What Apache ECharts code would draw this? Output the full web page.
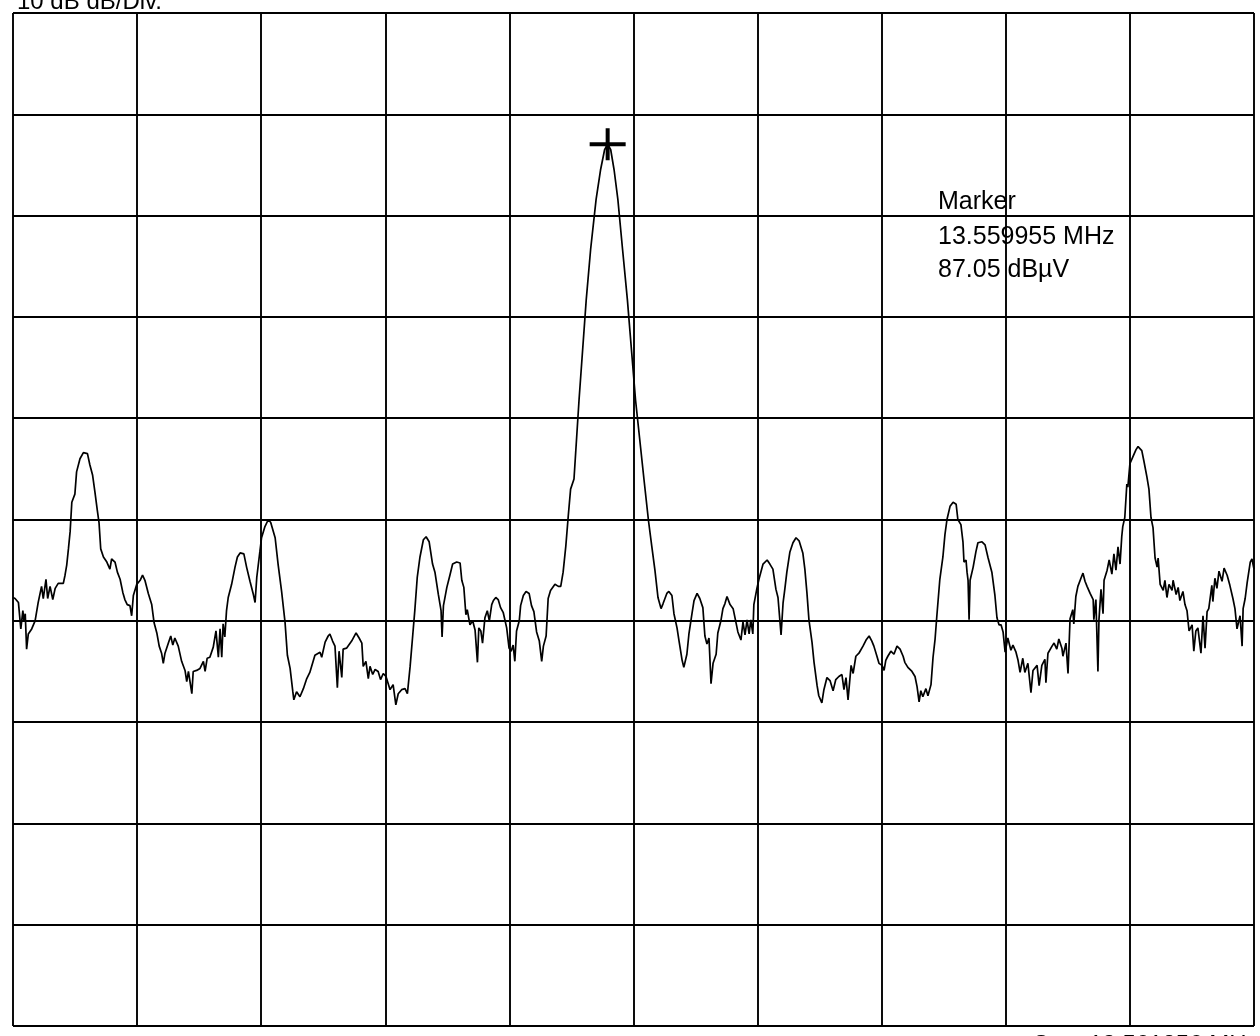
<!DOCTYPE html>
<html>
<head>
<meta charset="utf-8">
<title>Spectrum 13.56 MHz</title>
<script src="https://cdn.jsdelivr.net/npm/echarts@6/dist/echarts.min.js"></script>
<style>
  html, body { margin: 0; padding: 0; background: #ffffff; overflow: hidden; }
  #chart { width: 1260px; height: 1036px; }
</style>
</head>
<body>
<div id="chart"></div>
<script>
// Sweep settings (frequency in Hz, level in dBµV)
const START_HZ = 13558206;
const STOP_HZ = 13561856;
const SPAN_HZ = STOP_HZ - START_HZ;
const REF_LEVEL = 100;
const DB_PER_DIV = 10;
const DIVISIONS = 10;

const scaleText = '10 dB dB/Div.';
const markerTitle = 'Marker';

// Trace: frequency offset from start (Hz)
const freqOffsetHz = [
  0, 6, 16, 23, 29, 32, 36, 40, 45, 55,
  65, 74, 84, 89, 97, 102, 109, 117, 124, 133,
  148, 153, 158, 163, 168, 173, 182, 187, 197, 207,
  219, 226, 234, 241, 248, 253, 258, 266, 276, 285,
  290, 300, 307, 315, 323, 329, 336, 344, 349, 354,
  364, 374, 381, 388, 398, 408, 415, 423, 430, 437,
  442, 447, 457, 464, 470, 476, 486, 496, 506, 511,
  516, 526, 530, 540, 550, 560, 565, 571, 579, 589,
  597, 604, 609, 614, 618, 623, 628, 633, 643, 653,
  660, 668, 679, 687, 697, 707, 712, 717, 721, 726,
  731, 741, 751, 758, 771, 780, 790, 800, 807, 815,
  823, 826, 834, 844, 854, 864, 873, 888, 903, 908,
  918, 927, 932, 940, 947, 954, 959, 967, 971, 981,
  996, 1009, 1018, 1026, 1030, 1038, 1045, 1050, 1058, 1065,
  1074, 1081, 1089, 1097, 1109, 1118, 1126, 1133, 1143, 1153,
  1160, 1168, 1176, 1182, 1189, 1197, 1207, 1215, 1224, 1234,
  1241, 1251, 1259, 1262, 1266, 1276, 1285, 1293, 1305, 1315,
  1320, 1326, 1332, 1336, 1344, 1352, 1359, 1366, 1370, 1376,
  1381, 1388, 1395, 1401, 1408, 1413, 1420, 1427, 1434, 1442,
  1452, 1459, 1465, 1471, 1476, 1481, 1489, 1493, 1501, 1509,
  1518, 1525, 1532, 1540, 1548, 1555, 1560, 1568, 1574, 1581,
  1594, 1604, 1611, 1618, 1626, 1633, 1640, 1650, 1665, 1686,
  1699, 1715, 1728, 1740, 1749, 1758, 1768, 1779, 1793, 1807,
  1831, 1856, 1869, 1879, 1888, 1897, 1906, 1912, 1923, 1929,
  1938, 1944, 1953, 1959, 1968, 1973, 1982, 1988, 1997, 2003,
  2012, 2020, 2029, 2035, 2041, 2047, 2053, 2059, 2068, 2073,
  2082, 2088, 2094, 2100, 2109, 2118, 2126, 2132, 2141, 2147,
  2153, 2159, 2165, 2170, 2176, 2179, 2188, 2194, 2206, 2218,
  2226, 2235, 2244, 2250, 2259, 2265, 2270, 2276, 2285, 2294,
  2303, 2312, 2323, 2329, 2335, 2341, 2350, 2356, 2365, 2370,
  2379, 2385, 2394, 2403, 2412, 2420, 2429, 2438, 2444, 2450,
  2456, 2465, 2471, 2479, 2488, 2500, 2509, 2518, 2526, 2532,
  2541, 2547, 2556, 2562, 2567, 2573, 2582, 2591, 2600, 2609,
  2618, 2623, 2632, 2644, 2653, 2659, 2665, 2670, 2676, 2685,
  2691, 2700, 2706, 2712, 2717, 2726, 2735, 2741, 2747, 2756,
  2765, 2774, 2779, 2788, 2794, 2797, 2803, 2806, 2809, 2812,
  2815, 2824, 2832, 2838, 2850, 2859, 2868, 2879, 2888, 2894,
  2900, 2906, 2912, 2918, 2926, 2935, 2941, 2950, 2956, 2962,
  2970, 2976, 2985, 2994, 3000, 3012, 3018, 3026, 3035, 3038,
  3044, 3056, 3062, 3070, 3076, 3085, 3088, 3097, 3103, 3109,
  3117, 3120, 3126, 3132, 3141, 3147, 3153, 3159, 3168, 3177,
  3179, 3185, 3191, 3194, 3200, 3206, 3209, 3218, 3224, 3232,
  3238, 3244, 3250, 3256, 3261, 3264, 3270, 3276, 3279, 3285,
  3294, 3303, 3309, 3320, 3326, 3335, 3341, 3347, 3353, 3359,
  3365, 3368, 3374, 3383, 3388, 3394, 3400, 3409, 3412, 3421,
  3427, 3432, 3441, 3447, 3453, 3459, 3468, 3473, 3479, 3485,
  3494, 3500, 3506, 3512, 3517, 3526, 3529, 3535, 3541, 3547,
  3556, 3562, 3571, 3579, 3588, 3594, 3600, 3609, 3615, 3618,
  3624, 3630, 3639, 3644, 3650
];

// Trace: measured level (dBµV)
const levelDbuV = [
  42.3, 42.2, 41.8, 39.2, 41.0, 40.0, 40.7, 37.2, 38.7, 39.2,
  40.0, 41.8, 43.4, 42.2, 44.1, 42.2, 43.4, 42.1, 43.2, 43.7,
  43.7, 44.5, 45.5, 47.1, 48.8, 51.7, 52.5, 54.7, 56.0, 56.6,
  56.5, 55.4, 54.4, 52.7, 50.9, 49.7, 47.1, 46.3, 45.8, 45.1,
  46.1, 45.8, 44.8, 44.1, 42.8, 42.1, 41.6, 41.5, 40.5, 42.5,
  43.6, 44.0, 44.5, 44.0, 42.7, 41.6, 39.8, 38.8, 37.5, 36.8,
  35.8, 36.8, 37.8, 38.5, 37.6, 38.3, 37.5, 36.0, 35.1, 34.0,
  35.0, 32.8, 35.0, 35.1, 35.3, 36.0, 35.0, 36.3, 36.4, 37.4,
  39.0, 36.4, 39.2, 36.4, 39.7, 38.4, 41.0, 42.3, 43.6, 45.3,
  46.3, 46.7, 46.6, 45.3, 43.9, 42.6, 41.8, 44.3, 44.4, 46.8,
  48.2, 49.3, 50.0, 49.7, 48.2, 45.5, 42.9, 39.9, 36.6, 35.3,
  33.0, 32.2, 33.0, 32.5, 33.3, 34.3, 34.9, 36.6, 36.9, 36.4,
  37.9, 38.5, 38.7, 38.0, 37.5, 33.4, 37.0, 34.4, 37.2, 37.3,
  38.0, 38.8, 38.3, 37.8, 35.5, 36.0, 34.3, 35.5, 34.7, 35.2,
  35.0, 34.2, 34.8, 34.5, 33.2, 33.7, 31.7, 32.8, 33.2, 33.3,
  32.8, 35.5, 38.7, 41.1, 44.3, 46.3, 48.0, 48.3, 47.8, 45.6,
  44.8, 42.6, 41.0, 38.4, 41.5, 43.3, 44.5, 45.6, 45.8, 45.7,
  44.0, 43.3, 40.6, 41.1, 39.6, 40.0, 39.1, 35.9, 39.3, 39.0,
  37.8, 40.3, 41.0, 40.0, 41.6, 42.0, 42.3, 42.1, 41.3, 40.8,
  39.3, 37.3, 37.0, 37.6, 36.0, 39.0, 40.0, 41.5, 42.5, 42.9,
  42.7, 41.5, 40.9, 38.9, 38.0, 36.0, 37.5, 38.5, 42.2, 43.0,
  43.6, 43.4, 43.4, 44.8, 47.4, 50.3, 53.0, 54.0, 61.9, 71.7,
  76.7, 81.6, 84.5, 86.5, 87.05, 86.5, 84.5, 81.6, 76.6, 71.7,
  61.8, 53.9, 49.9, 47.3, 45.0, 42.3, 41.2, 41.7, 42.7, 42.9,
  42.5, 40.7, 39.3, 38.0, 36.1, 35.4, 36.7, 38.7, 40.7, 42.0,
  42.7, 42.2, 41.3, 38.5, 37.7, 38.3, 33.8, 35.8, 36.7, 38.8,
  40.0, 41.2, 41.7, 42.4, 41.6, 41.2, 39.9, 38.9, 38.1, 39.9,
  38.6, 40.1, 38.7, 40.1, 38.7, 41.6, 43.2, 44.1, 45.6, 46.0,
  45.6, 45.1, 43.1, 42.3, 38.6, 41.8, 43.1, 44.8, 46.8, 47.7,
  48.2, 47.9, 46.7, 45.1, 42.8, 40.1, 37.9, 35.9, 33.6, 32.6,
  31.9, 33.2, 34.4, 34.1, 33.1, 34.2, 34.5, 34.7, 33.2, 34.4,
  32.2, 35.6, 34.8, 36.5, 36.8, 37.5, 38.1, 38.5, 38.0, 37.5,
  36.5, 35.8, 35.6, 35.1, 36.1, 36.5, 37.0, 36.7, 37.5, 37.2,
  36.5, 35.9, 35.4, 35.0, 34.5, 33.5, 32.0, 33.1, 32.5, 33.3,
  32.6, 33.7, 36.4, 38.2, 40.4, 44.1, 46.3, 48.5, 50.0, 51.3,
  51.7, 51.5, 50.0, 49.5, 47.8, 45.8, 46.0, 44.8, 44.0, 40.1,
  44.0, 45.3, 46.8, 47.7, 47.8, 47.5, 46.2, 44.8, 42.5, 40.3,
  39.6, 39.6, 38.9, 36.9, 38.3, 37.1, 37.6, 36.9, 36.1, 34.9,
  36.3, 34.9, 35.8, 32.9, 35.1, 35.6, 33.6, 35.6, 36.2, 33.9,
  36.8, 37.5, 37.8, 37.2, 38.2, 37.3, 36.5, 37.8, 34.8, 40.2,
  41.1, 39.7, 42.4, 43.4, 44.2, 44.7, 43.9, 43.4, 42.7, 42.1,
  40.1, 42.1, 35.0, 40.1, 43.1, 40.7, 44.0, 45.0, 46.0, 44.6,
  46.6, 45.0, 47.3, 45.6, 48.3, 49.3, 50.2, 53.5, 53.2, 55.5,
  56.2, 56.9, 57.2, 56.8, 55.8, 54.2, 53.0, 50.2, 49.2, 46.2,
  45.3, 46.2, 43.6, 43.0, 44.0, 42.3, 43.6, 43.0, 44.0, 42.6,
  43.3, 42.0, 42.9, 41.6, 41.0, 39.0, 39.6, 37.0, 39.0, 39.3,
  36.8, 40.5, 37.3, 40.9, 41.2, 43.5, 41.9, 44.2, 43.2, 44.9,
  43.9, 45.2, 44.5, 43.5, 42.2, 41.2, 39.2, 40.5, 37.5, 41.2,
  42.2, 43.8, 45.8, 46.1, 45.1
];

const traceData = freqOffsetHz.map((f, i) => [f, levelDbuV[i]]);

// Peak marker sits on the highest trace point
let peakIdx = 0;
levelDbuV.forEach((v, i) => { if (v > levelDbuV[peakIdx]) peakIdx = i; });
const peakHz = freqOffsetHz[peakIdx];
const peakLevel = levelDbuV[peakIdx];
const markerFreqText = ((START_HZ + peakHz) / 1e6).toFixed(6) + ' MHz';
const markerLevelText = peakLevel.toFixed(2) + ' dB\u00b5V';
const stopText = 'Stop ' + (STOP_HZ / 1e6).toFixed(6) + ' MHz';

const FONT = '"Liberation Sans", Arial, Helvetica, sans-serif';
const INK = '#000000';
const gridLine = { color: '#000000', width: 1.9 };

const chart = echarts.init(document.getElementById('chart'), null, { renderer: 'canvas' });

chart.setOption({
  animation: false,
  backgroundColor: '#ffffff',
  grid: { left: 13, top: 13, width: 1241, height: 1013, show: false },
  xAxis: {
    type: 'value',
    min: 0,
    max: SPAN_HZ,
    interval: SPAN_HZ / DIVISIONS,
    axisLine: { show: false },
    axisTick: { show: false },
    axisLabel: { show: false },
    splitLine: { show: true, showMinLine: true, showMaxLine: true, lineStyle: gridLine }
  },
  yAxis: {
    type: 'value',
    min: REF_LEVEL - DB_PER_DIV * DIVISIONS,
    max: REF_LEVEL,
    interval: DB_PER_DIV,
    axisLine: { show: false },
    axisTick: { show: false },
    axisLabel: { show: false },
    splitLine: { show: true, showMinLine: true, showMaxLine: true, lineStyle: gridLine }
  },
  series: [{
    type: 'line',
    data: traceData,
    showSymbol: false,
    symbol: 'none',
    sampling: null,
    silent: true,
    clip: true,
    lineStyle: { color: '#000000', width: 1.7 },
    markPoint: {
      silent: true,
      symbol: 'path://M0,14H36V18H0Z M16,0H20V32H16Z',
      symbolSize: [36, 32],
      symbolKeepAspect: false,
      itemStyle: { color: '#000000' },
      label: { show: false },
      data: [{ coord: [peakHz, peakLevel] }]
    }
  }],
  graphic: [
    {
      type: 'text', left: 17, top: -10, silent: true,
      style: { text: scaleText, fill: INK, font: '24px ' + FONT }
    },
    {
      type: 'text', left: 938, top: 190, silent: true,
      style: { text: markerTitle, fill: INK, font: '25px ' + FONT }
    },
    {
      type: 'text', left: 938, top: 225, silent: true,
      style: { text: markerFreqText, fill: INK, font: '25px ' + FONT }
    },
    {
      type: 'text', left: 938, top: 258, silent: true,
      style: { text: markerLevelText, fill: INK, font: '25px ' + FONT }
    },
    {
      type: 'text', left: 1033, top: 1033, silent: true,
      style: { text: stopText, fill: INK, font: '24px ' + FONT }
    }
  ]
});
</script>
</body>
</html>
